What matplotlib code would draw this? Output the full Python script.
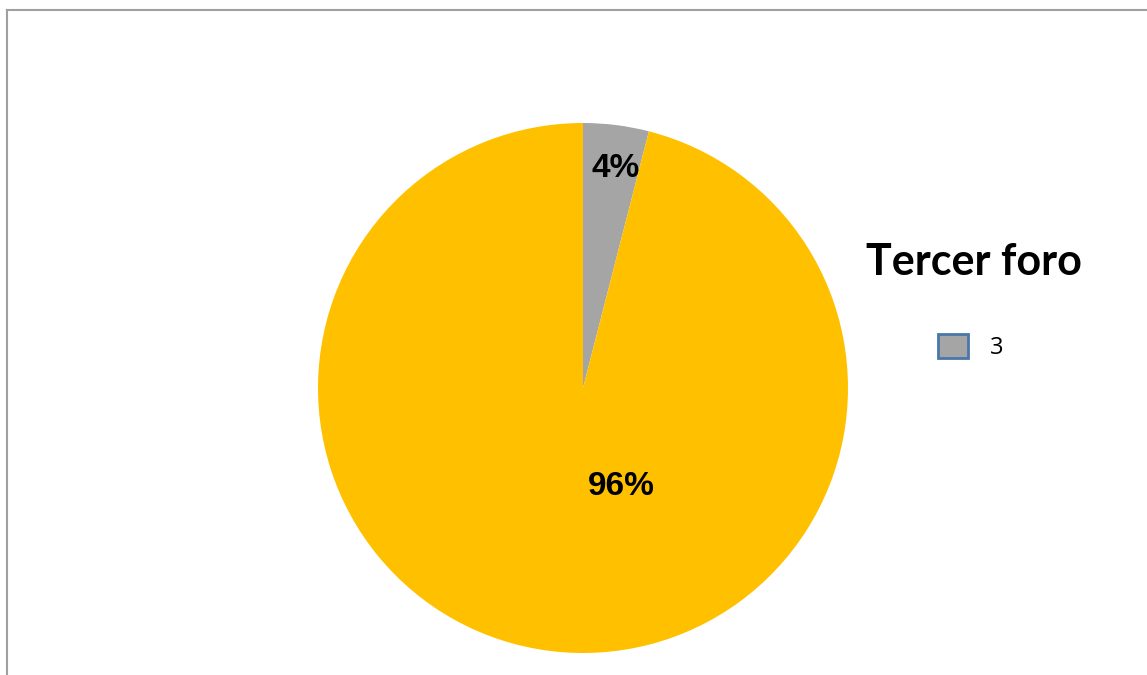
import matplotlib.pyplot as plt
from matplotlib.lines import Line2D
from matplotlib.patches import Patch

# Datos del gráfico
etiquetas = ["3", ""]
valores = [4, 96]
colores = ["#A5A5A5", "#FFC000"]
titulo = "Tercer foro"

W, H = 1147, 675
fig = plt.figure(figsize=(W / 100, H / 100), dpi=100)

# Eje del pastel: centro (583, 388) px, radio 265 px
cx, cy, r = 583, 388, 265
ax = fig.add_axes([(cx - r) / W, (H - cy - r) / H, 2 * r / W, 2 * r / H])
wedges, textos, pcts = ax.pie(
    valores,
    colors=colores,
    startangle=90,
    counterclock=False,
    autopct="%1.0f%%",
    wedgeprops={"linewidth": 0},
    textprops={"fontsize": 24, "fontweight": "bold", "family": "Liberation Sans"},
)
ax.set_aspect("equal")
ax.set_xlim(-1, 1)
ax.set_ylim(-1, 1)

# Posición de las etiquetas como en el original
pcts[0].set_position((0.125, 0.83))
pcts[1].set_position((0.145, -0.37))

# Leyenda solo con la primera serie
leg = fig.legend(
    handles=[Patch(facecolor=colores[0], edgecolor="#4A76A8", linewidth=2, label=etiquetas[0])],
    loc="center left",
    bbox_to_anchor=(917 / W, 1 - 347 / H),
    frameon=False,
    fontsize=17,
    handlelength=1.25,
    handleheight=1.15,
    handletextpad=0.95,
)
for t in leg.get_texts():
    t.set_family("Open Sans")

fig.text(974 / W, 1 - 262 / H, titulo, ha="center", va="center",
         fontsize=31, fontweight="bold", family="Lato")

# Borde gris del área del gráfico
fig.add_artist(Line2D([7 / W, 1], [1 - 10 / H, 1 - 10 / H], color="#A0A0A0", lw=1.5))
fig.add_artist(Line2D([7 / W, 7 / W], [0, 1 - 10 / H], color="#A0A0A0", lw=1.5))

fig.savefig("out.png", dpi=100)
